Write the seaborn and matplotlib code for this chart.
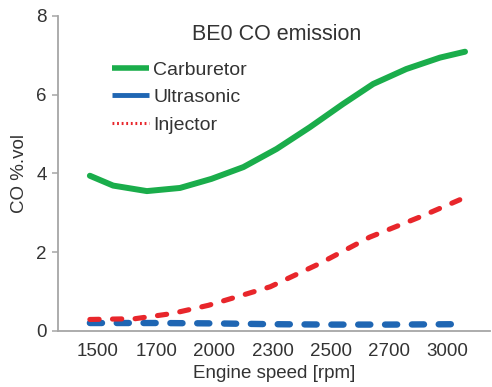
import matplotlib
matplotlib.use("Agg")
import matplotlib.pyplot as plt
from matplotlib.lines import Line2D
import seaborn as sns
import pandas as pd

# Category labels (engine speed, rpm)
speed_labels = ["1500", "1700", "2000", "2300", "2500", "2700", "3000"]

# Readings along the category axis (position index) and CO %.vol values
carb_pos = [-0.14, 0.26, 0.84, 1.41, 1.95, 2.50, 3.07, 3.64, 4.21, 4.73, 5.30, 5.88, 6.31]
carb_co = [3.94, 3.69, 3.55, 3.63, 3.86, 4.16, 4.62, 5.17, 5.76, 6.27, 6.65, 6.94, 7.09]

ultra_pos = [-0.14, 1.0, 2.0, 3.0, 4.0, 5.0, 6.22]
ultra_co = [0.2, 0.2, 0.19, 0.17, 0.16, 0.16, 0.17]

inj_pos = [-0.14, 0.64, 1.27, 1.90, 2.58, 2.96, 3.81, 4.67, 5.53, 6.22]
inj_co = [0.29, 0.31, 0.44, 0.65, 0.95, 1.12, 1.71, 2.38, 2.89, 3.33]

title = "BE0 CO emission"
series_names = ["Carburetor", "Ultrasonic", "Injector"]
colors = {"Carburetor": "#1aad4b", "Ultrasonic": "#1f66b3", "Injector": "#e8262b"}

sns.set_theme(style="white")
plt.rcParams["font.family"] = ["Liberation Sans", "DejaVu Sans"]
TXT = "#333333"
GRAY = "#a6a6a6"

df_c = pd.DataFrame({"pos": carb_pos, "co": carb_co})
df_u = pd.DataFrame({"pos": ultra_pos, "co": ultra_co})
df_i = pd.DataFrame({"pos": inj_pos, "co": inj_co})

fig = plt.figure(figsize=(4.92, 3.87), dpi=100)
ax = fig.add_axes([0.118, 0.145, 0.878, 0.814])

sns.lineplot(data=df_c, x="pos", y="co", ax=ax, color=colors["Carburetor"],
             linewidth=4.3, solid_capstyle="round", solid_joinstyle="round", sort=False)
sns.lineplot(data=df_u, x="pos", y="co", ax=ax, color=colors["Ultrasonic"],
             linewidth=4.6, linestyle=(0, (1.9, 2.3)), dash_capstyle="round", sort=False)
sns.lineplot(data=df_i, x="pos", y="co", ax=ax, color=colors["Injector"],
             linewidth=3.7, linestyle=(0, (1.8, 2.6)), dash_capstyle="round", sort=False)

ax.set_xlim(-0.687, 6.74)
ax.set_ylim(0, 8)
ax.set_xticks(range(len(speed_labels)))
ax.set_xticklabels(speed_labels)
ax.set_yticks([0, 2, 4, 6, 8])
ax.set_xlabel("Engine speed [rpm]", fontsize=13.5, color=TXT, labelpad=3)
ax.set_ylabel("CO %.vol", fontsize=13.5, color=TXT, labelpad=6)
ax.tick_params(axis="x", length=0, pad=9, labelsize=13.5, labelcolor=TXT)
ax.tick_params(axis="y", length=4, width=1.1, color=GRAY, pad=4, labelsize=13.5, labelcolor=TXT, left=True)

for s in ["top", "right"]:
    ax.spines[s].set_visible(False)
for s in ["left", "bottom"]:
    ax.spines[s].set_color(GRAY)
    ax.spines[s].set_linewidth(1.3)

ax.text(0.506, 0.94, title, transform=ax.transAxes, ha="center", va="center",
        fontsize=15.5, color=TXT)

handles = [
    Line2D([], [], color=colors["Carburetor"], linewidth=4, solid_capstyle="butt"),
    Line2D([], [], color=colors["Ultrasonic"], linewidth=3.5, solid_capstyle="butt"),
    Line2D([], [], color=colors["Injector"], linewidth=2.2, linestyle=(0, (0.6, 0.9))),
]
leg = ax.legend(handles, series_names, loc="upper left", bbox_to_anchor=(0.125, 0.857),
                frameon=False, fontsize=14, handlelength=1.9, handletextpad=0.22,
                labelspacing=0.52, borderaxespad=0, borderpad=0)
for t in leg.get_texts():
    t.set_color(TXT)

fig.savefig("out.png", dpi=100)
